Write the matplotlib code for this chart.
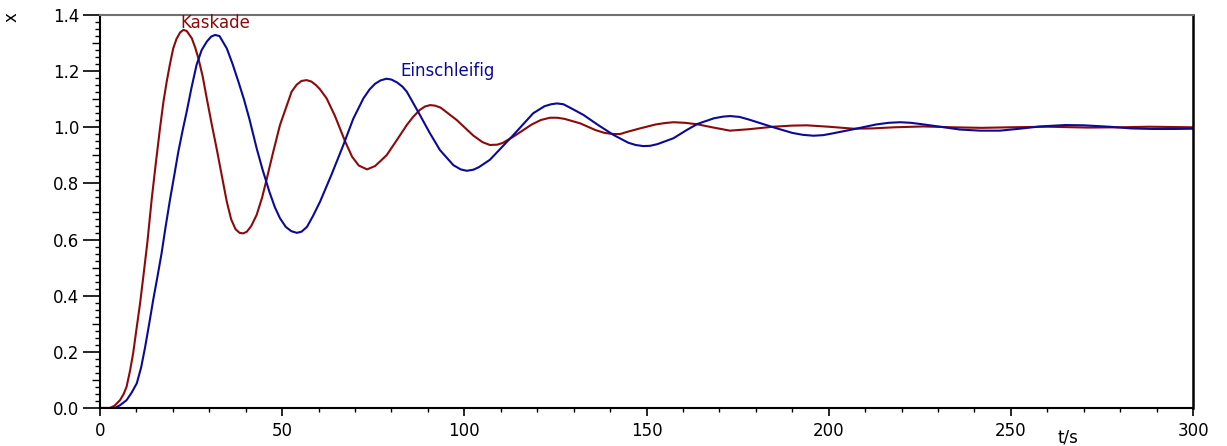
import matplotlib.pyplot as plt
from matplotlib.ticker import MultipleLocator, FixedLocator, NullFormatter

# Kaskade (red)
t_kaskade = [0, 2.7, 4, 5.5, 6.5, 7.3, 8.2, 9.1, 10, 11, 12, 13, 14.2, 15.3, 16.5, 17.4,
             18.3, 19.2, 20.1, 21, 22, 22.9, 23.8, 25.2, 26.1, 27, 28.2, 29.3, 30.6, 32,
             33.4, 34.8, 36, 37.2, 38.3, 39.3, 40.3, 41.5, 43, 44.5, 45.8, 47.5, 49.4,
             51.2, 52.6, 54, 55.3, 56.7, 58, 59.3, 60.4, 62.2, 64.5, 67.3, 69.2, 71,
             73.3, 75.5, 77, 78.7, 81.5, 84.2, 86, 87.8, 89.2, 90.6, 92, 93.5, 97.9,
             102.5, 105, 107, 109, 110.5, 113.5, 118.5, 121, 123.5, 125.5, 127.5, 131.8,
             136, 138.5, 140.9, 142.8, 144.5, 148.2, 152.5, 155, 157.4, 160.5, 163.8, 168,
             172.9, 178, 184.8, 190, 194, 200, 206.8, 212, 218, 226, 234, 242, 250, 260,
             271, 280, 288, 300]
x_kaskade = [0, 0, 0.008, 0.028, 0.05, 0.076, 0.13, 0.195, 0.28, 0.373, 0.48, 0.59, 0.745,
             0.87, 1.0, 1.09, 1.162, 1.225, 1.281, 1.315, 1.338, 1.347, 1.343, 1.317, 1.285,
             1.246, 1.18, 1.103, 1.015, 0.925, 0.83, 0.735, 0.672, 0.637, 0.624, 0.622,
             0.628, 0.648, 0.688, 0.75, 0.818, 0.91, 1.008, 1.075, 1.127, 1.152, 1.165,
             1.168, 1.163, 1.15, 1.135, 1.103, 1.04, 0.949, 0.895, 0.864, 0.85, 0.862, 0.88,
             0.901, 0.955, 1.008, 1.038, 1.062, 1.074, 1.079, 1.077, 1.07, 1.026, 0.97,
             0.947, 0.937, 0.938, 0.944, 0.967, 1.01, 1.026, 1.034, 1.034, 1.03, 1.014,
             0.99, 0.98, 0.976, 0.976, 0.983, 0.996, 1.01, 1.015, 1.018, 1.016, 1.011, 1.0,
             0.988, 0.993, 1.002, 1.006, 1.007, 1.002, 0.995, 0.996, 1.0, 1.003, 1.0,
             0.998, 1.0, 1.002, 0.999, 1.0, 1.002, 1.0]

# Einschleifig (blue)
t_einschl = [0, 4.1, 5.5, 7.3, 8.7, 10.1, 11.3, 12.4, 13.5, 14.6, 15.8, 16.9, 18, 19.2,
             20.4, 21.5, 22.7, 23.8, 25.1, 26.5, 27.9, 29.3, 30.5, 31.6, 32.8, 34.8, 36.4,
             38, 39.5, 41, 43, 44.6, 46.5, 48, 49.4, 51, 52.5, 54, 55.3, 56.8, 58.5, 60.4,
             63.5, 66.8, 69.5, 72.3, 74, 75.5, 77, 78.6, 80, 81.5, 83, 84.2, 87.8, 90.5,
             93.3, 97, 99, 100.7, 102.5, 104, 107, 110, 113.5, 118.9, 122, 123.8, 125.4,
             127.2, 129, 132.7, 136.5, 140.9, 145, 147, 149.1, 151, 153, 157.4, 161, 164,
             168.5, 171, 173, 175.5, 178, 184.8, 190, 193, 195.8, 198.5, 201, 206.8, 213,
             216.5, 219.6, 222.5, 225, 230.6, 236, 241.6, 247, 252.5, 258, 265, 270, 277,
             283, 289, 295, 300]
x_einschl = [0, 0, 0.01, 0.028, 0.055, 0.088, 0.145, 0.218, 0.3, 0.385, 0.47, 0.551, 0.645,
             0.741, 0.83, 0.913, 0.99, 1.056, 1.14, 1.222, 1.275, 1.305, 1.323, 1.329,
             1.325, 1.281, 1.225, 1.162, 1.1, 1.03, 0.925, 0.85, 0.77, 0.715, 0.676, 0.645,
             0.63, 0.624, 0.628, 0.645, 0.685, 0.735, 0.83, 0.937, 1.03, 1.103, 1.135,
             1.155, 1.167, 1.173, 1.17, 1.16, 1.145, 1.127, 1.044, 0.98, 0.919, 0.865,
             0.85, 0.845, 0.849, 0.858, 0.884, 0.925, 0.973, 1.05, 1.075, 1.082, 1.085,
             1.082, 1.07, 1.044, 1.01, 0.973, 0.945, 0.937, 0.933, 0.934, 0.94, 0.961,
             0.99, 1.012, 1.032, 1.038, 1.04, 1.037, 1.028, 1.0, 0.98, 0.973, 0.97, 0.972,
             0.978, 0.993, 1.01, 1.016, 1.018, 1.016, 1.012, 1.002, 0.992, 0.988, 0.988,
             0.995, 1.003, 1.008, 1.007, 1.002, 0.996, 0.994, 0.994, 0.995]

red = '#8b0a0a'
blue = '#0a0a96'
plt.rcParams['font.family'] = 'DejaVu Sans'

fig = plt.figure(figsize=(12.27, 4.46), dpi=100)
ax = fig.add_axes([100 / 1227, 1 - 408 / 446, 1093 / 1227, 393 / 446])

ax.plot(t_kaskade, x_kaskade, color=red, lw=1.5)
ax.plot(t_einschl, x_einschl, color=blue, lw=1.5)

ax.set_xlim(0, 300)
ax.set_ylim(0, 1.4)

ax.xaxis.set_major_locator(MultipleLocator(50))
ax.xaxis.set_minor_locator(MultipleLocator(10))
ax.yaxis.set_major_locator(MultipleLocator(0.2))
ax.yaxis.set_minor_locator(FixedLocator([i * 0.025 for i in range(57) if i % 4 != 0]))
ax.yaxis.set_major_formatter(plt.FuncFormatter(lambda v, p: f'{v:.1f}'))

ax.tick_params(axis='x', which='major', direction='out', length=6, width=1.2,
               labelsize=12, pad=4)
ax.tick_params(axis='x', which='minor', direction='out', length=3, width=1)
ax.tick_params(axis='y', which='major', direction='out', length=12, width=1.2,
               labelsize=12, pad=3)
ax.tick_params(axis='y', which='minor', direction='out', length=3.5, width=1)

# medium ticks at 0.1, 0.3, ...
sec = ax.secondary_yaxis('left')
sec.yaxis.set_major_locator(FixedLocator([0.1, 0.3, 0.5, 0.7, 0.9, 1.1, 1.3]))
sec.yaxis.set_major_formatter(NullFormatter())
sec.tick_params(direction='out', length=6, width=1)
sec.spines['left'].set_visible(False)

ax.spines['left'].set_linewidth(1.5)
ax.spines['bottom'].set_linewidth(1.5)
ax.spines['right'].set_linewidth(1.8)
ax.spines['top'].set_linewidth(1.5)
ax.spines['top'].set_color('#707070')

ax.text(22, 1.37, 'Kaskade', color=red, fontsize=12, va='center', ha='left')
ax.text(82.5, 1.2, 'Einschleifig', color=blue, fontsize=12, va='center', ha='left')

fig.text(12 / 1227, 1 - 17 / 446, 'x', rotation=90, fontsize=12, ha='center', va='center')
fig.text(1068 / 1227, 1 - 438 / 446, 't/s', fontsize=12, ha='center', va='center')

fig.savefig('out.png', dpi=100)
